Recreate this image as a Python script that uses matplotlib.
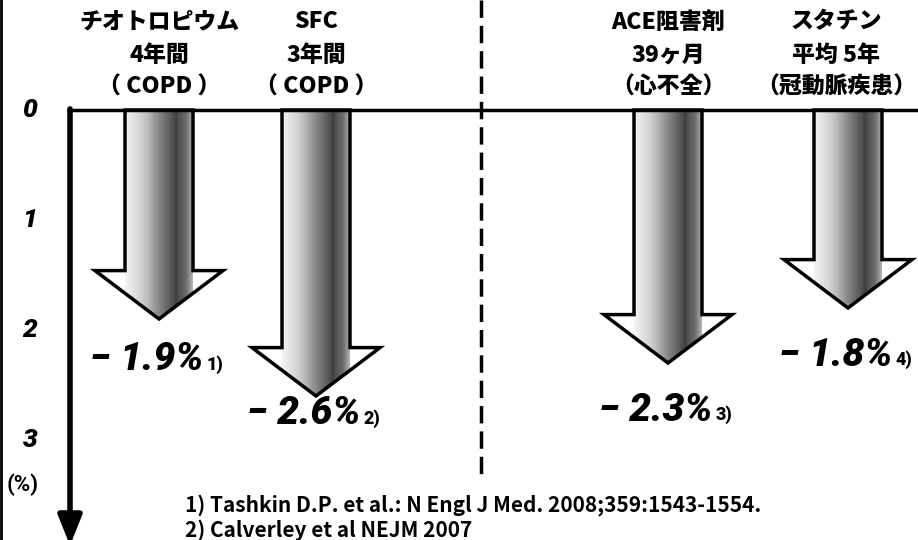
import numpy as np
import matplotlib.pyplot as plt
from matplotlib.patches import Polygon

plt.rcParams['font.family'] = ['Noto Sans CJK JP', 'DejaVu Sans']

# data
drugs = ['チオトロピウム', 'SFC', 'ACE阻害剤', 'スタチン']
periods = ['4年間', '3年間', '39ヶ月', '平均 5年']
diseases = ['（ COPD ）', '（ COPD ）', '（心不全）', '（冠動脈疾患）']
decline = [1.9, 2.6, 2.3, 1.8]
refs = ['1)', '2)', '3)', '4)']
y_ticks = [0, 1, 2, 3]
citations = ['1) Tashkin D.P. et al.: N Engl J Med. 2008;359:1543-1554.',
             '2) Calverley et al NEJM 2007']

# layout (x in pixels, y in % units)
x_pos = [159, 316, 668, 848]
head_shift = [0, 0, 0, -12]
label_off = [0.37, 0.16, 0.43, 0.43]
px = 110.0            # pixels per 1 %
top, bottom = -110 / px, (540 - 110) / px
shaft_w, head_w, head_len = 34, 64, 0.44
latin = ['Roboto', 'DejaVu Sans']

fig = plt.figure(figsize=(9.18, 5.4), dpi=100)
ax = fig.add_axes([0, 0, 1, 1])

profile = np.interp(np.linspace(0, 1, 200), [0, 0.25, 0.55, 0.75, 0.9, 1],
                    [0.1, 0.3, 0.6, 0.8, 0.65, 0.4])
grad = np.tile(profile, (2, 1))

for c, v in zip(x_pos, decline):
    pts = [(c - shaft_w, 0), (c + shaft_w, 0), (c + shaft_w, v - head_len),
           (c + head_w, v - head_len), (c, v), (c - head_w, v - head_len),
           (c - shaft_w, v - head_len)]
    poly = Polygon(pts, closed=True, facecolor='none', edgecolor='black',
                   lw=2.5, zorder=3, joinstyle='miter')
    ax.add_patch(poly)
    im = ax.imshow(grad, cmap='Greys', vmin=0, vmax=1, aspect='auto',
                   extent=[c - shaft_w, c + shaft_w, v, 0],
                   interpolation='bilinear', zorder=2)
    im.set_clip_path(poly)

# value labels
for c, v, r, off in zip(x_pos, decline, refs, label_off):
    t = ax.text(c - 12, v + off, f'− {v:.1f}%', ha='center', va='center',
                fontsize=28, fontweight='black', style='italic', family=latin)
    ax.annotate(r, xy=(1, 0.12), xycoords=t, xytext=(2, 0),
                textcoords='offset points', ha='left', va='bottom',
                fontsize=13, fontweight='black', family=latin)

# headers
for c, hs, d, p, s in zip(x_pos, head_shift, drugs, periods, diseases):
    ax.text(c + hs, -88 / px, d, ha='center', va='center', fontsize=16.5, fontweight='black')
    ax.text(c + hs, -55 / px, p, ha='center', va='center', fontsize=16.5, fontweight='black')
    ax.text(c + hs, -23 / px, s, ha='center', va='center', fontsize=16.5, fontweight='black')

# axes lines
ax.plot([67, 918], [0, 0], color='black', lw=2.5, solid_capstyle='butt')
ax.annotate('', xy=(70, bottom + 0.05), xytext=(70, -0.01),
            annotation_clip=False,
            arrowprops=dict(arrowstyle='-|>,head_length=0.75,head_width=0.3',
                            lw=4, color='black', mutation_scale=24,
                            shrinkA=0, shrinkB=0))
ax.plot([481, 481], [top, (478 - 110) / px], color='black', lw=2.5,
        ls=(0, (5, 2.3)))
ax.plot([1, 1], [top, bottom], color='black', lw=2)

for yt in y_ticks:
    ax.text(30, yt, str(yt), ha='center', va='center', fontsize=19,
            fontweight='black', style='italic', family=latin)
ax.text(23, (485 - 110) / px, '(%)', ha='center', va='center', fontsize=16,
        fontweight='bold', family=latin)

for i, line in enumerate(citations):
    ax.text(185, (505 - 110) / px + i * 25 / px, line, ha='left', va='center',
            fontsize=15, fontweight='bold')

ax.set_xlim(0, 918)
ax.set_ylim(bottom, top)
ax.axis('off')
fig.savefig('out.png', dpi=100)
